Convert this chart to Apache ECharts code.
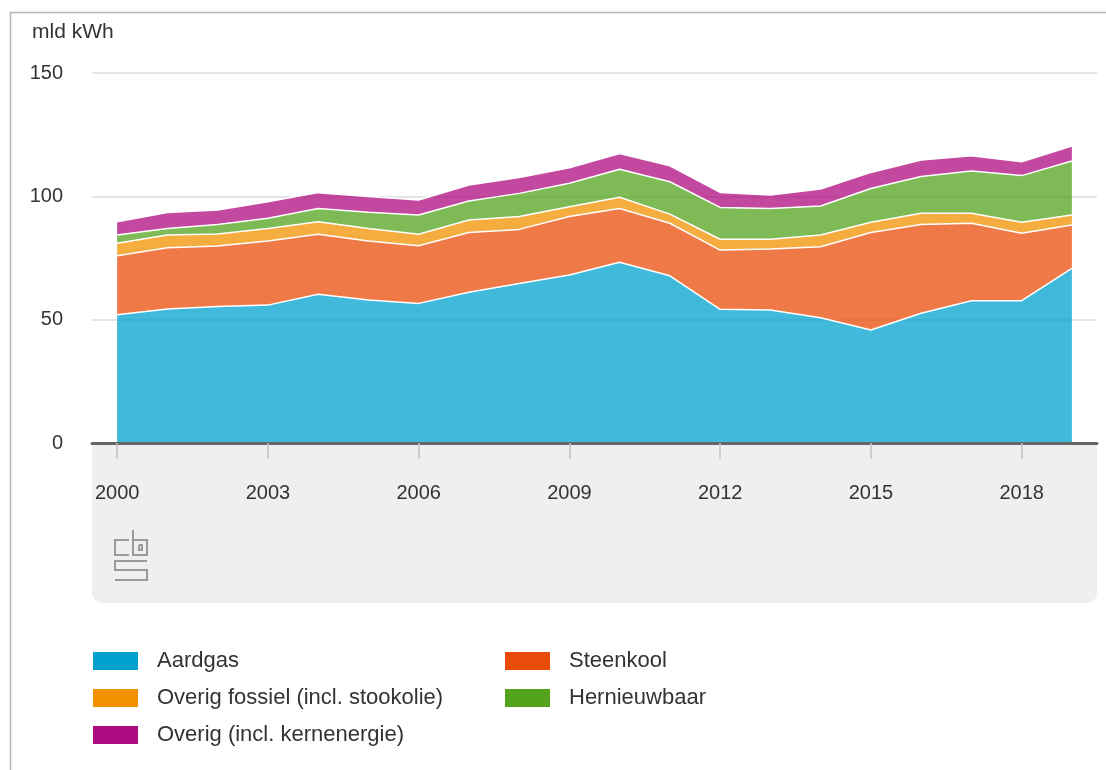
<!DOCTYPE html>
<html>
<head>
<meta charset="utf-8">
<script src="https://cdn.jsdelivr.net/npm/echarts@6/dist/echarts.min.js"></script>
<style>
  html, body { margin: 0; padding: 0; background: #fff; }
  #chart { width: 1106px; height: 770px; }
</style>
</head>
<body>
<div id="chart"></div>
<script>
// ---- data (mld kWh) ----
const years = ['2000','2001','2002','2003','2004','2005','2006','2007','2008','2009',
               '2010','2011','2012','2013','2014','2015','2016','2017','2018','2019'];
const aardgas = [52.0, 54.3, 55.3, 55.9, 60.3, 58.0, 56.6, 61.1, 64.7, 68.1,
                 73.3, 67.8, 54.2, 53.9, 50.8, 45.8, 52.6, 57.7, 57.7, 70.8];
const steenkool = [23.9, 24.9, 24.6, 26.0, 24.3, 23.9, 23.4, 24.2, 21.9, 23.7,
                   21.8, 21.3, 24.0, 24.7, 28.8, 39.5, 36.0, 31.4, 27.3, 17.6];
const overigFossiel = [5.1, 5.1, 4.8, 5.1, 5.1, 5.1, 4.6, 5.1, 5.2, 4.0,
                       4.5, 3.7, 4.4, 4.0, 4.7, 4.2, 4.5, 4.0, 4.5, 4.0];
const hernieuwbaar = [3.3, 2.7, 3.9, 4.1, 5.4, 6.5, 7.8, 7.7, 9.4, 9.5,
                      11.4, 13.1, 12.9, 12.5, 11.8, 13.7, 14.9, 17.2, 18.9, 21.9];
const overig = [5.4, 6.4, 5.9, 6.7, 6.4, 6.4, 6.1, 6.5, 6.4, 6.3,
                6.4, 6.5, 6.1, 5.4, 6.9, 6.5, 6.7, 6.2, 5.6, 6.1];
const yTicks = [0, 50, 100, 150];
const unitLabel = 'mld kWh';

const seriesDefs = [
  { name: 'Aardgas', data: aardgas, color: '#00a1cd' },
  { name: 'Steenkool', data: steenkool, color: '#e94c0a' },
  { name: 'Overig fossiel (incl. stookolie)', data: overigFossiel, color: '#f39200' },
  { name: 'Hernieuwbaar', data: hernieuwbaar, color: '#53a31d' },
  { name: 'Overig (incl. kernenergie)', data: overig, color: '#af0b80' }
];

const FONT = '"Liberation Sans", Arial, sans-serif';
const chart = echarts.init(document.getElementById('chart'), null, { renderer: 'canvas' });

const logoStyle = { stroke: '#9a9a9a', lineWidth: 2, fill: null };
const legendCommon = {
  orient: 'vertical', top: 650, padding: 0, icon: 'rect', itemWidth: 45, itemHeight: 18, itemGap: 15,
  selectedMode: false,
  textStyle: { fontFamily: FONT, fontSize: 22, color: '#333', padding: [0, 0, 0, 14] }
};

chart.setOption({
  animation: false,
  textStyle: { fontFamily: FONT },
  grid: { left: 92, right: 9, top: 73, bottom: 327, containLabel: false },
  legend: [
    Object.assign({ left: 93, data: [seriesDefs[0].name, seriesDefs[2].name, seriesDefs[4].name] }, legendCommon),
    Object.assign({ left: 505, data: [seriesDefs[1].name, seriesDefs[3].name] }, legendCommon)
  ],
  xAxis: {
    type: 'category',
    data: years,
    boundaryGap: true,
    z: 5,
    axisLine: { show: true, lineStyle: { color: '#666', width: 3 } },
    axisTick: { show: true, interval: 2, alignWithLabel: true, length: 16, lineStyle: { color: '#c4c4c4', width: 1.5 } },
    axisLabel: { interval: 2, margin: 40, fontSize: 20, color: '#333', fontFamily: FONT },
    splitLine: { show: false }
  },
  yAxis: {
    type: 'value',
    min: 0, max: 150, interval: 50,
    axisLine: { show: false },
    axisTick: { show: false },
    axisLabel: { margin: 29, fontSize: 20, color: '#333', fontFamily: FONT,
                 formatter: v => yTicks.indexOf(v) >= 0 ? String(v) : '' },
    splitLine: { show: true, lineStyle: { color: '#dcdcdc', width: 1.5 } }
  },
  graphic: [
    { type: 'line', z: -2, shape: { x1: 10.5, y1: 12, x2: 10.5, y2: 770 }, style: { stroke: '#b5b5b5', lineWidth: 1.5 } },
    { type: 'line', z: -2, shape: { x1: 10, y1: 12.5, x2: 1106, y2: 12.5 }, style: { stroke: '#b5b5b5', lineWidth: 1.5 } },
    { type: 'rect', z: -1, shape: { x: 92, y: 443, width: 1005, height: 160, r: [0, 0, 10, 10] }, style: { fill: '#efefef' } },
    { type: 'text', left: 32, top: 22, style: { text: unitLabel, font: '21px ' + FONT, fill: '#333' } },
    // cbs logo (decoration)
    { type: 'polyline', shape: { points: [[129,540],[115,540],[115,555],[129,555]] }, style: logoStyle },
    { type: 'polyline', shape: { points: [[133,530],[133,555],[147,555],[147,540],[133,540]] }, style: logoStyle },
    { type: 'polyline', shape: { points: [[139,545],[142,545],[142,550],[139,550],[139,545]] }, style: logoStyle },
    { type: 'polyline', shape: { points: [[147,561],[115,561],[115,570],[147,570],[147,580],[115,580]] }, style: logoStyle }
  ],
  series: seriesDefs.map(s => ({
    name: s.name,
    type: 'line',
    stack: 'total',
    data: s.data,
    symbol: 'none',
    showSymbol: false,
    color: s.color,
    itemStyle: { color: s.color },
    lineStyle: { color: '#ffffff', width: 1.5 },
    areaStyle: { color: s.color, opacity: 0.75 },
    emphasis: { disabled: true }
  }))
});
</script>
</body>
</html>
